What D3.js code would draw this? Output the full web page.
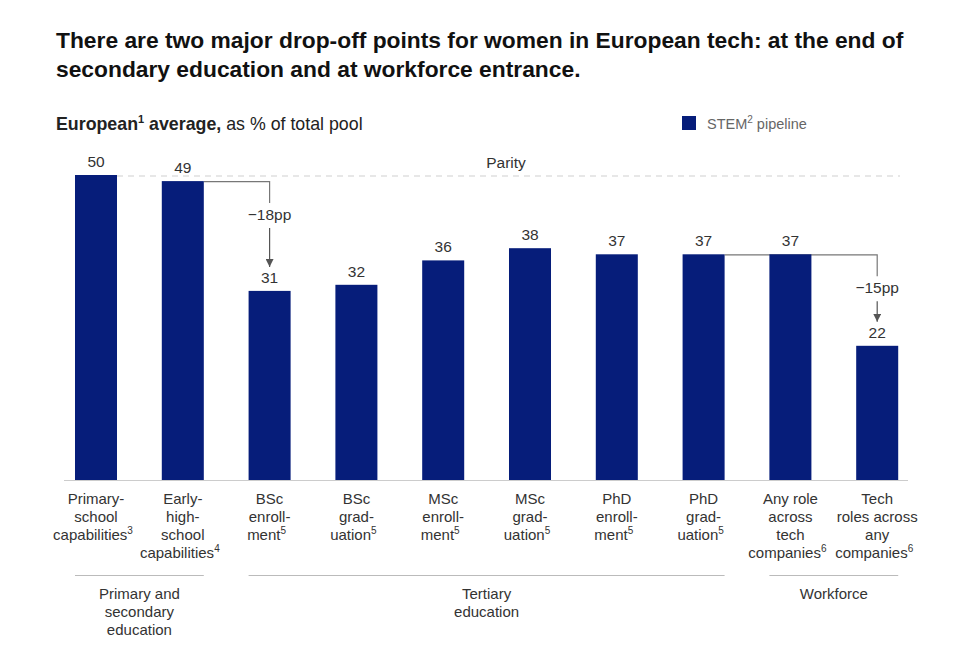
<!DOCTYPE html>
<html>
<head>
<meta charset="utf-8">
<script src="https://cdn.jsdelivr.net/npm/d3@7"></script>
<style>
  body { margin: 0; background: #fff; }
  svg { font-family: "Liberation Sans", Arial, sans-serif; }
</style>
</head>
<body>
<svg id="chart" width="977" height="650"></svg>
<script>
// ---- data ----
const categories = [
  ["Primary-", "school", "capabilities|3"],
  ["Early-", "high-", "school", "capabilities|4"],
  ["BSc", "enroll-", "ment|5"],
  ["BSc", "grad-", "uation|5"],
  ["MSc", "enroll-", "ment|5"],
  ["MSc", "grad-", "uation|5"],
  ["PhD", "enroll-", "ment|5"],
  ["PhD", "grad-", "uation|5"],
  ["Any role", "across", "tech", "companies|6"],
  ["Tech", "roles across", "any", "companies|6"]
];
const values = [50, 49, 31, 32, 36, 38, 37, 37, 37, 22];
const groups = [
  { label: ["Primary and", "secondary", "education"], from: 0, to: 1 },
  { label: ["Tertiary", "education"], from: 2, to: 7 },
  { label: ["Workforce"], from: 8, to: 9 }
];
const drops = [
  { from: 1, to: 2, label: "\u221218pp" },
  { from: 7, to: 9, label: "\u221215pp" }
];
const parity = 50;

// ---- layout ----
const svg = d3.select("#chart");
const navy = "#061d7a";
const baseY = 480;

const x = d3.scaleBand()
  .domain(d3.range(categories.length))
  .range([52.6, 920.6])
  .paddingInner(0.516)
  .paddingOuter(0.258);
const y = d3.scaleLinear().domain([0, 50]).range([baseY, 175]);

// title
const title = svg.append("text")
  .attr("x", 56).attr("y", 48)
  .attr("font-size", 22.8).attr("font-weight", "bold").attr("fill", "#111");
title.append("tspan").attr("x", 56).text("There are two major drop-off points for women in European tech: at the end of");
title.append("tspan").attr("x", 56).attr("dy", 29).text("secondary education and at workforce entrance.");

// subtitle
const sub = svg.append("text").attr("x", 56).attr("y", 130).attr("font-size", 17.8).attr("fill", "#222");
sub.append("tspan").attr("font-weight", "bold").text("European");
sub.append("tspan").attr("font-weight", "bold").attr("font-size", 11).attr("dy", -7).text("1");
sub.append("tspan").attr("font-weight", "bold").attr("dy", 7).text(" average,");
sub.append("tspan").text(" as % of total pool");

// legend
svg.append("rect").attr("x", 682).attr("y", 116).attr("width", 14).attr("height", 14).attr("fill", navy);
const leg = svg.append("text").attr("x", 707).attr("y", 129).attr("font-size", 14.5).attr("fill", "#666");
leg.append("tspan").text("STEM");
leg.append("tspan").attr("font-size", 10).attr("dy", -6).text("2");
leg.append("tspan").attr("dy", 6).text(" pipeline");

// parity line
svg.append("line")
  .attr("x1", x(0) + x.bandwidth()).attr("x2", 900)
  .attr("y1", y(parity) + 1).attr("y2", y(parity) + 1)
  .attr("stroke", "#cfcfcf").attr("stroke-width", 1.2).attr("stroke-dasharray", "6,5");
svg.append("text").attr("x", 506).attr("y", 168).attr("text-anchor", "middle")
  .attr("font-size", 15.5).attr("fill", "#333").text("Parity");

// baseline
svg.append("line").attr("x1", 64).attr("x2", 908).attr("y1", baseY + 0.5).attr("y2", baseY + 0.5)
  .attr("stroke", "#ccc").attr("stroke-width", 1);

// connectors (drawn before bars)
svg.append("defs").append("marker")
  .attr("id", "arr").attr("viewBox", "0 0 10 10").attr("refX", 10).attr("refY", 5)
  .attr("markerWidth", 8).attr("markerHeight", 8).attr("markerUnits", "userSpaceOnUse")
  .attr("orient", "auto")
  .append("path").attr("d", "M0,0 L10,5 L0,10 z").attr("fill", "#555");

drops.forEach(d => {
  const x0 = x(d.from) + x.bandwidth();
  const xc = x(d.to) + x.bandwidth() / 2;
  const yTop = y(values[d.from]);
  const yLow = y(values[d.to]);
  const labelY = yTop + 39;
  svg.append("path")
    .attr("d", `M${x0},${yTop + 0.5} H${xc} V${yTop + 22}`)
    .attr("fill", "none").attr("stroke", "#777").attr("stroke-width", 1.2);
  svg.append("text").attr("x", xc).attr("y", labelY).attr("text-anchor", "middle")
    .attr("font-size", 15.5).attr("fill", "#333").text(d.label);
  svg.append("line").attr("x1", xc).attr("x2", xc).attr("y1", labelY + 8).attr("y2", yLow - 24)
    .attr("stroke", "#555").attr("stroke-width", 1.2).attr("marker-end", "url(#arr)");
});

// bars
svg.selectAll("rect.bar").data(values).enter().append("rect")
  .attr("class", "bar")
  .attr("x", (d, i) => x(i)).attr("width", x.bandwidth())
  .attr("y", d => y(d)).attr("height", d => baseY - y(d))
  .attr("fill", navy);

// value labels
svg.selectAll("text.val").data(values).enter().append("text")
  .attr("class", "val")
  .attr("x", (d, i) => x(i) + x.bandwidth() / 2)
  .attr("y", d => y(d) - 8)
  .attr("text-anchor", "middle").attr("font-size", 15.5).attr("fill", "#333")
  .text(d => d);

// category labels
categories.forEach((lines, i) => {
  const cx = x(i) + x.bandwidth() / 2;
  const t = svg.append("text").attr("x", cx).attr("y", 504)
    .attr("text-anchor", "middle").attr("font-size", 15).attr("fill", "#333");
  lines.forEach((ln, j) => {
    const [txt, sup] = ln.split("|");
    const ts = t.append("tspan").attr("x", cx).attr("y", 504 + j * 18).text(txt);
    if (sup) {
      ts.attr("dx", -3);
      t.append("tspan").attr("font-size", 10).attr("dy", -6).text(sup);
    }
  });
});

// groups
groups.forEach(g => {
  const x1 = x(g.from), x2 = x(g.to) + x.bandwidth();
  svg.append("line").attr("x1", x1).attr("x2", x2).attr("y1", 575.5).attr("y2", 575.5)
    .attr("stroke", "#bbb").attr("stroke-width", 1);
  const t = svg.append("text").attr("text-anchor", "middle").attr("font-size", 15).attr("fill", "#333");
  g.label.forEach((ln, j) => {
    t.append("tspan").attr("x", (x1 + x2) / 2).attr("y", 599 + j * 18).text(ln);
  });
});
</script>
</body>
</html>
